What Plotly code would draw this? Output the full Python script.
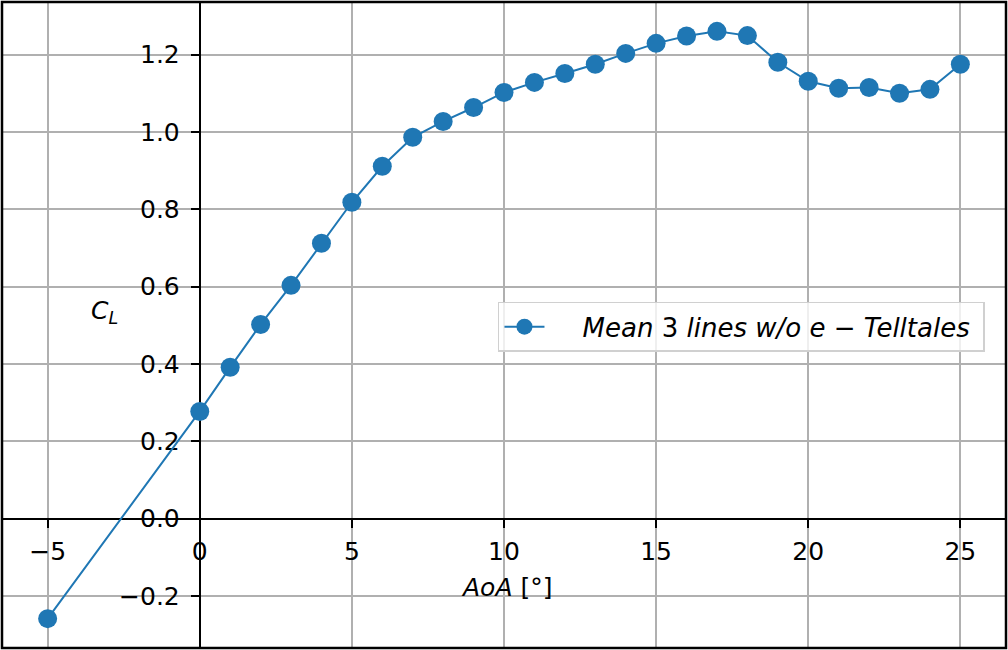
import plotly.graph_objects as go

aoa = [-5, 0, 1, 2, 3, 4, 5, 6, 7, 8, 9, 10, 11, 12, 13, 14, 15, 16, 17, 18, 19, 20, 21, 22, 23, 24, 25]
cl = [-0.259, 0.277, 0.391, 0.502, 0.603, 0.712, 0.818, 0.911, 0.986, 1.027, 1.063, 1.102, 1.128,
      1.151, 1.175, 1.203, 1.229, 1.248, 1.260, 1.249, 1.180, 1.131, 1.113, 1.115, 1.100, 1.110, 1.175]
x_ticks = [-5, 0, 5, 10, 15, 20, 25]
y_ticks = [-0.2, 0.0, 0.2, 0.4, 0.6, 0.8, 1.0, 1.2]
series_name = "&nbsp;&nbsp;&nbsp;&nbsp;<i>Mean</i> 3 <i>lines w/o e</i> − <i>Telltales</i>&nbsp;"
x_label = "<i>AoA</i> [°]"
y_label = "<i>C</i><sub><i>L</i></sub>"

xmin, xmax = min(aoa), max(aoa)
ymin, ymax = min(cl), max(cl)
xr = [xmin - 0.05 * (xmax - xmin), xmax + 0.05 * (xmax - xmin)]
yr = [ymin - 0.05 * (ymax - ymin), ymax + 0.05 * (ymax - ymin)]
xpos = (0 - xr[0]) / (xr[1] - xr[0])
ypos = (0 - yr[0]) / (yr[1] - yr[0])

font = dict(family="DejaVu Sans", size=25, color="black")
blue = "#1f77b4"

fig = go.Figure()
fig.add_trace(go.Scatter(
    x=aoa, y=cl, mode="lines+markers", name=series_name,
    line=dict(color=blue, width=2), marker=dict(color=blue, size=19),
))

fig.update_layout(
    width=1008, height=650,
    margin=dict(l=2, r=2, t=2, b=2),
    paper_bgcolor="white", plot_bgcolor="white",
    font=font,
    showlegend=True,
    legend=dict(x=0.494, y=0.536, xanchor="left", yanchor="top",
                bgcolor="rgba(255,255,255,0.8)", bordercolor="#d0d0d0", borderwidth=1.5,
                itemwidth=40,
                font=dict(family="DejaVu Sans", size=26, color="black")),
    xaxis=dict(range=xr, tickvals=x_ticks, showgrid=True, gridcolor="#b0b0b0", gridwidth=1.6,
               zeroline=False, showline=True, linecolor="black", linewidth=2,
               ticks="outside", ticklen=8, tickwidth=2, tickcolor="black", ticklabelstandoff=2,
               anchor="free", position=ypos, layer="below traces", tickfont=font),
    yaxis=dict(range=yr, tickvals=y_ticks, tickformat=".1f", showgrid=True, gridcolor="#b0b0b0", gridwidth=1.6,
               zeroline=False, showline=True, linecolor="black", linewidth=2,
               ticks="outside", ticklen=8, tickwidth=2, tickcolor="black", ticklabelstandoff=6,
               anchor="free", position=xpos, layer="below traces", tickfont=font),
    shapes=[dict(type="rect", xref="paper", yref="paper", x0=0, y0=0, x1=1, y1=1,
                 line=dict(color="black", width=2.5), layer="above")],
    annotations=[
        dict(x=-3.125, y=0.533, xref="x", yref="y", text=y_label,
             showarrow=False, font=font),
        dict(x=10.07, y=-0.1785, xref="x", yref="y", text=x_label,
             showarrow=False, font=font),
    ],
)

fig.write_html("out.html", config={"displayModeBar": False},
               post_script="document.body.style.margin='0';")
